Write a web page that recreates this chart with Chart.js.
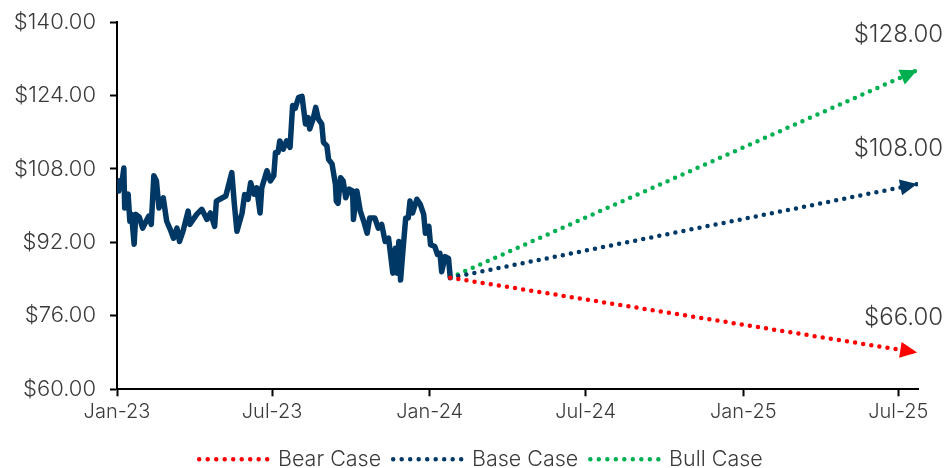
<!DOCTYPE html>
<html><head><meta charset="utf-8">
<script src="https://cdn.jsdelivr.net/npm/chart.js@4.4.1/dist/chart.umd.min.js"></script>
<style>html,body{margin:0;padding:0;background:#fff;}#wrap{width:948px;height:468px;position:relative}</style>
</head><body><div id="wrap"><canvas id="c" width="948" height="468"></canvas></div>
<script>
const priceDates = [
'2023-01-03','2023-01-04','2023-01-06','2023-01-09','2023-01-10','2023-01-12','2023-01-14','2023-01-16','2023-01-18','2023-01-21','2023-01-23','2023-01-27','2023-01-31',
'2023-02-04','2023-02-07','2023-02-10','2023-02-13','2023-02-16','2023-02-19','2023-02-24','2023-02-28',
'2023-03-04','2023-03-08','2023-03-12','2023-03-15','2023-03-19','2023-03-25','2023-03-27',
'2023-04-04','2023-04-10','2023-04-16','2023-04-20','2023-04-25','2023-04-27',
'2023-05-01','2023-05-08','2023-05-15','2023-05-18','2023-05-21','2023-05-27','2023-05-30',
'2023-06-03','2023-06-06','2023-06-10','2023-06-13','2023-06-17','2023-06-19','2023-06-25','2023-06-29',
'2023-07-03','2023-07-05','2023-07-08','2023-07-10','2023-07-14','2023-07-18','2023-07-22','2023-07-25','2023-07-28',
'2023-08-01','2023-08-05','2023-08-09','2023-08-12','2023-08-14','2023-08-18','2023-08-21','2023-08-24','2023-08-28','2023-08-30',
'2023-09-03','2023-09-05','2023-09-09','2023-09-13','2023-09-14','2023-09-16','2023-09-19','2023-09-22','2023-09-25','2023-09-29',
'2023-10-03','2023-10-04','2023-10-08','2023-10-12','2023-10-16','2023-10-20','2023-10-23','2023-10-29',
'2023-11-02','2023-11-06','2023-11-10','2023-11-14','2023-11-19','2023-11-22','2023-11-24','2023-11-26','2023-11-28',
'2023-12-01','2023-12-04','2023-12-07','2023-12-09','2023-12-12','2023-12-17','2023-12-21','2023-12-25','2023-12-27','2023-12-31',
'2024-01-02','2024-01-07','2024-01-10','2024-01-13','2024-01-15','2024-01-19','2024-01-23','2024-01-25'
];
const priceValues = [
103.2,105.4,104.0,108.2,99.5,101.4,102.5,96.6,98.1,91.6,98.1,97.5,95.1,
96.6,97.7,95.9,106.5,105.4,99.5,101.7,96.6,
94.9,92.9,95.1,92.2,94.4,98.8,95.9,
98.1,99.2,97.0,98.4,95.5,101.0,
101.4,102.1,107.2,100.3,94.4,98.4,102.4,
101.4,105.0,102.5,103.9,98.4,103.9,107.6,105.4,
106.5,111.6,111.6,114.1,112.3,114.1,112.7,121.8,121.2,
123.6,123.8,117.8,119.2,116.7,118.9,121.4,118.9,117.8,113.8,
113.0,110.1,109.1,104.6,101.0,100.5,106.1,105.4,101.7,103.6,
103.2,97.0,103.2,98.8,96.6,94.0,97.3,97.3,
95.1,95.9,92.2,92.9,85.3,90.7,85.3,92.2,83.8,
90.7,97.3,97.3,101.0,98.4,101.4,100.3,98.1,94.0,95.5,
91.5,91.1,89.4,89.6,85.6,88.9,88.5,84.3
];
const scenarioNames = ['Bear Case','Base Case','Bull Case'];
const scenarioStartDate = '2024-01-25';
const scenarioStartValue = 84.3;
const scenarioEndDate = '2025-07-23';
const scenarioEndValues = [68.0, 104.7, 129.5];
const scenarioTargetLabels = ['$66.00','$108.00','$128.00'];
const scenarioColors = ['#FF0000','#003865','#00B050'];
const priceColor = '#003865';
const xTickDates = ['2023-01-01','2023-07-01','2024-01-01','2024-07-01','2025-01-01','2025-07-01'];
const xTickLabels = ['Jan-23','Jul-23','Jan-24','Jul-24','Jan-25','Jul-25'];
const xAxisEndDate = '2025-07-24';
const yTicks = [60,76,92,108,124,140];

const DAY = 86400000;
const ORIGIN = Date.UTC(2023,0,1);
function dayOf(s){ const p = s.split('-').map(Number); return (Date.UTC(p[0],p[1]-1,p[2]) - ORIGIN)/DAY; }

const FONT = 'Inter';
const WEIGHT = 300;
const TXT = '#3a3a3a';

const datasets = scenarioNames.map((n,i)=>({
  label:n,
  data:[{x:dayOf(scenarioStartDate),y:scenarioStartValue},{x:dayOf(scenarioEndDate),y:scenarioEndValues[i]}],
  borderColor:scenarioColors[i],
  backgroundColor:scenarioColors[i],
  borderWidth:4.5,
  borderDash:[0,8.2],
  borderCapStyle:'round',
  pointRadius:0,
  fill:false,
  tension:0
}));
datasets.push({
  label:'Price',
  data:priceDates.map((d,i)=>({x:dayOf(d),y:priceValues[i]})),
  borderColor:priceColor,
  borderWidth:5.5,
  borderJoinStyle:'round',
  borderCapStyle:'round',
  pointRadius:0,
  fill:false,
  tension:0
});

const arrowPlugin = {
  id:'arrows',
  afterLayout(chart){
    const lg = chart.legend;
    if (lg) { lg.top += 12; lg.bottom += 12; lg.left += 22; lg.right += 22; }
  },
  afterDatasetsDraw(chart){
    const ctx = chart.ctx;
    scenarioNames.forEach((n,i)=>{
      const pts = chart.getDatasetMeta(i).data;
      const a = pts[pts.length-2], b = pts[pts.length-1];
      const ang = Math.atan2(b.y-a.y, b.x-a.x);
      const L = 17, W = 8;
      ctx.save();
      ctx.translate(b.x,b.y); ctx.rotate(ang);
      ctx.beginPath(); ctx.moveTo(0,0); ctx.lineTo(-L,-W); ctx.lineTo(-L,W); ctx.closePath();
      ctx.fillStyle = scenarioColors[i]; ctx.fill();
      ctx.restore();
      ctx.save();
      ctx.font = WEIGHT + ' 24px ' + FONT; ctx.fillStyle = TXT; ctx.textAlign = 'right'; ctx.textBaseline = 'middle';
      ctx.fillText(scenarioTargetLabels[i], b.x + 26, b.y - 35);
      ctx.restore();
    });
  }
};

new Chart(document.getElementById('c'), {
  type:'line',
  data:{datasets},
  plugins:[arrowPlugin],
  options:{
    responsive:false,
    animation:false,
    devicePixelRatio:1,
    layout:{padding:{left:0,right:30,top:22,bottom:0}},
    plugins:{
      tooltip:{enabled:false},
      legend:{
        position:'bottom',
        labels:{
          boxWidth:68, boxHeight:0, padding:12,
          font:{family:FONT,size:21.5,weight:WEIGHT}, color:TXT,
          generateLabels(){
            return scenarioNames.map((n,i)=>({
              text:n, fillStyle:'rgba(0,0,0,0)', strokeStyle:scenarioColors[i],
              lineWidth:4.5, lineDash:[0,8.5], lineCap:'round', hidden:false, datasetIndex:i, fontColor:TXT
            }));
          }
        }
      }
    },
    scales:{
      x:{
        type:'linear', min:0, max:dayOf(xAxisEndDate),
        afterBuildTicks(s){ s.ticks = xTickDates.map(d=>({value:dayOf(d)})); },
        afterFit(s){ s.height = 35.2; },
        ticks:{
          autoSkip:false, maxRotation:0, padding:4, color:TXT, font:{family:FONT,size:20,weight:WEIGHT},
          callback(v){ const k = xTickDates.findIndex(d=>dayOf(d)===v); return k>=0 ? xTickLabels[k] : ''; }
        },
        grid:{drawOnChartArea:false, drawTicks:true, tickLength:7, color:'#000', tickWidth:2},
        border:{display:true, color:'#000', width:2}
      },
      y:{
        min:60, max:140,
        afterBuildTicks(s){ s.ticks = yTicks.map(v=>({value:v})); },
        afterFit(s){ s.width = 117; },
        ticks:{ padding:14, color:TXT, font:{family:FONT,size:22,weight:WEIGHT,lineHeight:0.72}, callback(v){ return '$' + Number(v).toFixed(2); } },
        grid:{drawOnChartArea:false, drawTicks:true, tickLength:7, color:'#000', tickWidth:2},
        border:{display:true, color:'#000', width:2}
      }
    }
  }
});
</script></body></html>
